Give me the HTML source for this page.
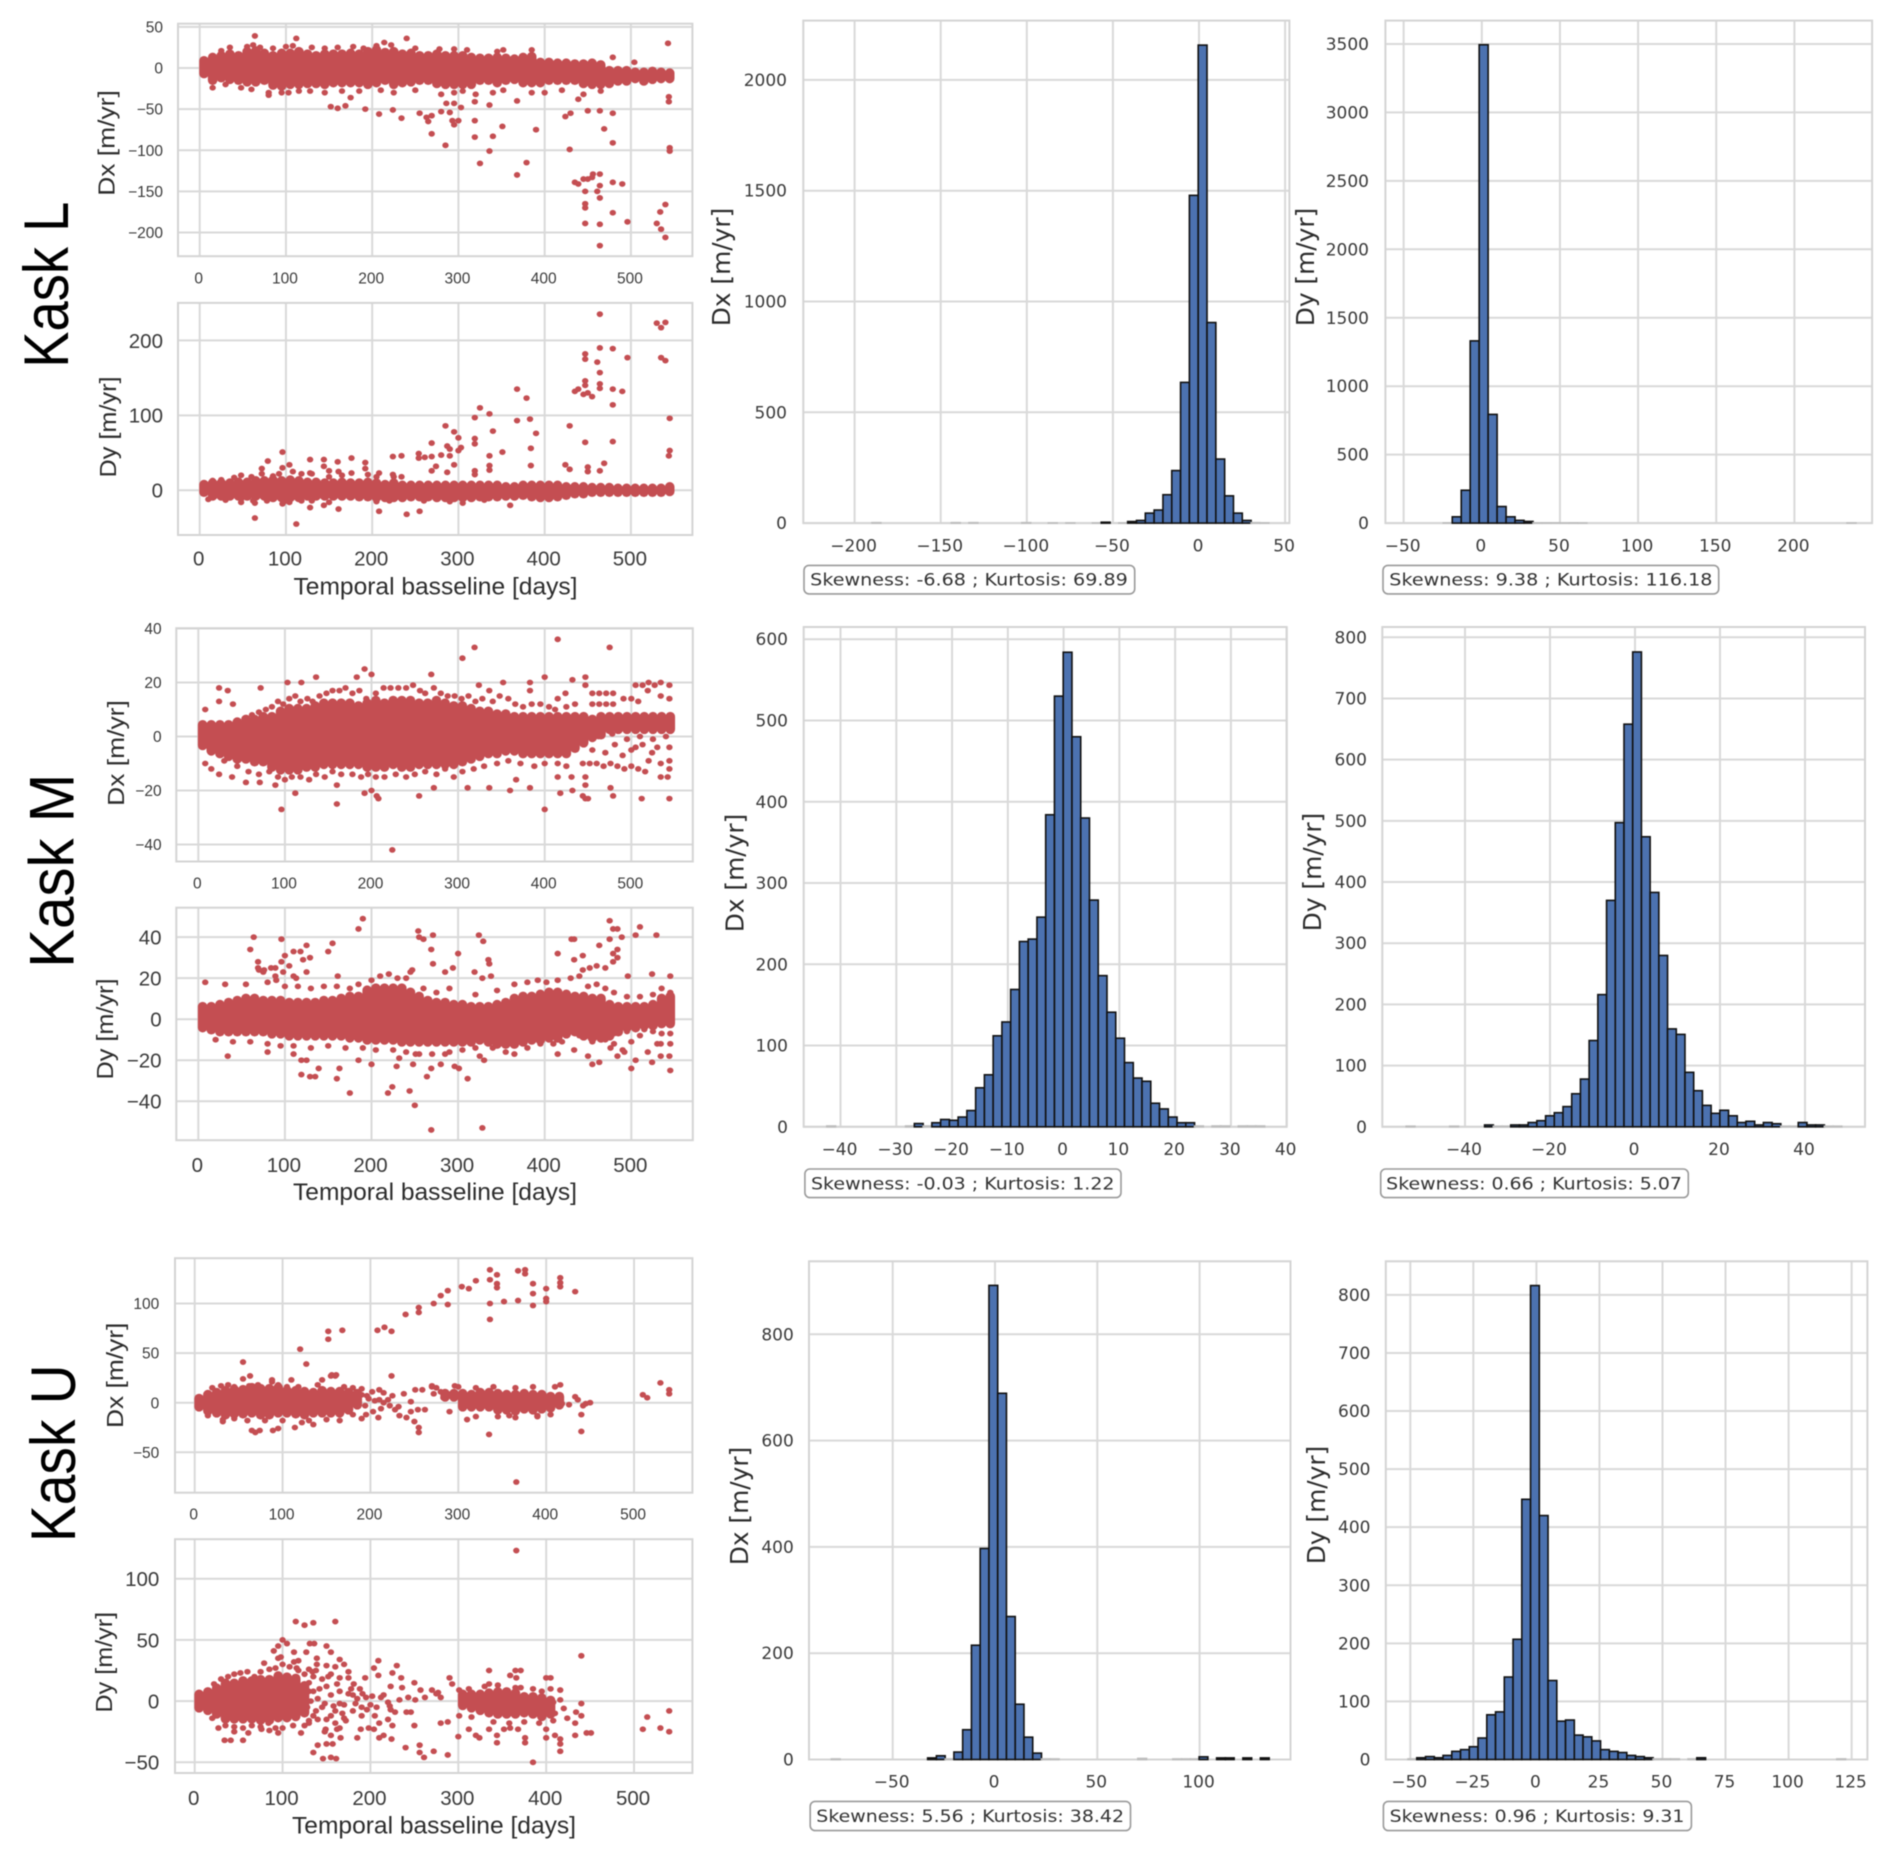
<!DOCTYPE html>
<html lang="en">
<head>
<meta charset="utf-8">
<title>Kask L, M, U displacement scatter plots and histograms</title>
<style>
html,body{margin:0;padding:0;background:#fff;width:1892px;height:1859px;overflow:hidden}
svg{display:block;filter:blur(.55px)}
</style>
</head>
<body>
<svg id="figure" xmlns="http://www.w3.org/2000/svg" width="1892" height="1859" viewBox="0 0 1892 1859"></svg>
<script>
/* ---------- shared ticks ---------- */
const dayTicks = [0,100,200,300,400,500];
const lDxScatterTicks = [50,0,-50,-100,-150,-200];
const lDyScatterTicks = [200,100,0];
const mDxScatterTicks = [40,20,0,-20,-40];
const mDyScatterTicks = [40,20,0,-20,-40];
const uDxScatterTicks = [100,50,0,-50];
const uDyScatterTicks = [100,50,0,-50];

const lDxHistXTicks = [-200,-150,-100,-50,0,50];
const lDxHistYTicks = [0,500,1000,1500,2000];
const lDyHistXTicks = [-50,0,50,100,150,200];
const lDyHistYTicks = [0,500,1000,1500,2000,2500,3000,3500];
const mDxHistXTicks = [-40,-30,-20,-10,0,10,20,30,40];
const mDxHistYTicks = [0,100,200,300,400,500,600];
const mDyHistXTicks = [-40,-20,0,20,40];
const mDyHistYTicks = [0,100,200,300,400,500,600,700,800];
const uDxHistXTicks = [-50,0,50,100];
const uDxHistYTicks = [0,200,400,600,800];
const uDyHistXTicks = [-50,-25,0,25,50,75,100,125];
const uDyHistYTicks = [0,100,200,300,400,500,600,700,800];

/* ---------- histogram counts (50 bins each) ---------- */
const lDxCounts = [0,0,0,0,0,2,0,0,0,0,0,0,0,0,2,0,2,0,0,0,0,0,2,0,0,1,0,1,0,0,1,4,0,1,7,12,45,59,128,237,635,1479,2157,905,289,123,45,12,2,1];
const lDxBinStart = -215.5;
const lDxBinWidth = 5.12;
const lDyCounts = [0,0,0,0,2,46,240,1331,3494,794,121,46,20,12,2,2,2,1,2,1,0,0,0,0,0,0,0,0,0,0,0,0,0,0,0,0,0,0,0,0,0,0,0,0,0,0,0,0,0,1];
const lDyBinStart = -47.6;
const lDyBinWidth = 5.74;
const mDxCounts = [1,0,0,0,0,0,0,0,0,1,4,1,5,9,8,12,20,48,64,112,129,169,228,231,258,384,530,584,480,380,279,186,141,109,79,60,56,29,22,12,5,5,1,0,1,1,0,1,1,1];
const mDxBinStart = -42.46;
const mDxBinWidth = 1.57;
const mDyCounts = [1,0,0,0,0,1,0,0,0,3,1,1,3,3,7,10,18,23,33,54,78,141,216,370,497,658,776,474,383,280,160,151,89,59,35,22,27,18,7,9,3,7,5,1,1,7,3,3,1,1];
const mDyBinStart = -53.84;
const mDyBinWidth = 2.05;
const uDxCounts = [1,0,0,0,0,0,0,0,0,0,0,3,7,1,14,56,215,397,892,689,269,104,42,12,1,1,0,0,0,0,0,0,0,0,0,2,0,0,0,1,1,1,5,0,3,3,0,3,0,3];
const uDxBinStart = -80;
const uDxBinWidth = 4.28;
const uDyCounts = [1,3,5,3,7,14,17,22,37,77,82,142,207,448,816,420,136,66,68,42,39,32,17,14,12,7,5,3,1,1,1,0,1,3,0,0,0,0,0,0,0,0,0,0,0,0,0,0,0,1];
const uDyBinStart = -50.9;
const uDyBinWidth = 3.47;

/* ---------- scatter dense cores: per-column low / high ---------- */
const lCoreDays = [5,15,25,35,45,55,65,75,85,95,105,115,125,135,145,155,165,175,185,195,205,215,225,235,245,255,265,275,285,295,305,315,325,335,345,355,365,375,385,395,405,415,425,435,445,455,465,475,485,495,505,515,525,535,545];
const lDxCoreHigh = [11,15,17,19,17,22,23,20,17,20,20,22,19,17,19,19,19,20,19,22,24,21,22,19,20,17,17,19,17,17,17,15,14,14,15,14,13,15,16,9,9,8,8,7,7,8,6,-1,-1,-1,-3,-3,-2,-3,-4];
const lDxCoreLow = [-9,-17,-14,-16,-17,-19,-19,-17,-23,-24,-22,-22,-21,-21,-22,-20,-20,-20,-20,-22,-20,-17,-22,-20,-19,-17,-17,-21,-22,-22,-22,-22,-17,-17,-20,-17,-16,-20,-20,-20,-17,-17,-17,-17,-21,-22,-22,-21,-18,-18,-15,-18,-16,-15,-15];
const lDyCoreHigh = [10,12,12,12,13,13,15,15,16,15,16,15,13,13,12,12,13,12,12,13,12,10,12,9,9,9,9,9,9,9,9,9,9,9,9,7,7,9,9,9,9,9,7,7,7,6,6,6,5,5,5,5,5,5,7];
const lDyCoreLow = [-5,-10,-10,-10,-10,-10,-10,-10,-12,-12,-12,-12,-10,-10,-10,-10,-10,-10,-11,-11,-12,-12,-12,-12,-11,-11,-11,-12,-12,-12,-12,-12,-11,-11,-11,-10,-10,-9,-11,-12,-12,-11,-9,-7,-7,-5,-5,-5,-5,-5,-5,-5,-5,-5,-4];
const mCoreDays = [5,15,25,35,45,55,65,75,85,95,105,115,125,135,145,155,165,175,185,195,205,215,225,235,245,255,265,275,285,295,305,315,325,335,345,355,365,375,385,395,405,415,425,435,445,455,465,475,485,495,505,515,525,535,545];
const mDxCoreHigh = [5,5,5,5,6,7,7,8,8,10,11,11,11,12,13,13,13,13,12,13,14,13,14,14,14,13,13,14,13,12,12,11,10,10,9,9,8,8,8,8,8,8,8,8,8,7,8,8,8,8,8,8,8,8,8];
const mDxCoreLow = [-4,-6,-7,-8,-9,-9,-10,-10,-12,-13,-13,-13,-12,-12,-11,-11,-11,-11,-11,-12,-12,-12,-11,-12,-12,-11,-11,-11,-11,-11,-10,-9,-8,-7,-7,-6,-6,-7,-7,-7,-7,-7,-7,-5,-3,-1,0,2,2,2,2,2,2,2,2];
const mDyCoreHigh = [7,7,8,9,10,11,11,10,10,10,9,9,9,9,10,10,11,12,12,15,16,16,16,16,14,12,10,9,9,8,8,7,7,7,8,9,11,12,12,13,14,14,13,12,12,11,11,8,7,7,7,7,8,11,12];
const mDyCoreLow = [-5,-6,-7,-7,-7,-7,-7,-7,-8,-8,-9,-9,-9,-9,-9,-9,-9,-10,-10,-11,-11,-11,-11,-12,-12,-12,-12,-12,-12,-12,-12,-12,-11,-12,-13,-13,-13,-12,-11,-11,-10,-10,-8,-7,-9,-10,-10,-9,-7,-5,-5,-4,-4,-3,-3];
const uDxCoreDays = [5,15,25,35,45,55,65,75,85,95,105,115,125,135,145,155,165,175,185,285,295,305,315,325,335,345,355,365,375,385,395,405,415];
const uDxCoreHigh = [6,10,12,14,15,15,17,16,16,17,14,14,13,12,14,13,13,12,11,11,11,11,10,12,12,11,10,10,11,10,10,8,8];
const uDxCoreLow = [-6,-10,-12,-14,-13,-13,-12,-14,-14,-12,-12,-13,-14,-12,-12,-12,-12,-9,-4,4,4,-6,-6,-6,-6,-9,-9,-10,-8,-9,-8,-7,-4];
const uDyCoreDays = [5,15,25,35,45,55,65,75,85,95,105,115,125,305,315,325,335,345,355,365,375,385,395,405];
const uDyCoreHigh = [7,9,12,16,16,18,18,19,19,22,21,20,14,7,7,7,8,9,9,8,5,5,4,2];
const uDyCoreLow = [-7,-9,-12,-16,-16,-16,-16,-17,-17,-15,-15,-14,-11,-5,-7,-9,-11,-12,-12,-12,-11,-12,-14,-12];

/* ---------- scatter individual points [day, value] ---------- */
const lDxPoints = [[64,39],[112,36],[214,31],[240,36],[543,30],[479,13],[504,7],[152,-47],[160,-49],[169,-46],[175,-36],[80,-33],[192,-50],[208,-56],[224,-51],[234,-61],[255,-55],[263,-60],[265,-65],[269,-58],[269,-80],[280,-53],[285,-94],[286,-43],[295,-43],[290,-54],[293,-64],[295,-69],[300,-64],[303,-48],[319,-41],[319,-64],[319,-84],[325,-116],[336,-45],[336,-101],[340,-83],[351,-71],[368,-40],[368,-130],[379,-115],[390,-75],[424,-59],[430,-55],[429,-99],[439,-38],[450,-52],[464,-52],[469,-74],[479,-55],[479,-91],[435,-139],[439,-141],[445,-135],[450,-135],[455,-133],[456,-129],[464,-129],[464,-143],[447,-150],[461,-150],[464,-158],[447,-165],[447,-170],[447,-189],[464,-190],[464,-216],[479,-139],[490,-141],[479,-176],[496,-187],[530,-189],[534,-175],[540,-166],[535,-196],[540,-206],[544,-35],[544,-41],[545,-97],[545,-101]];
const lDxEdgePoints = [[25,21],[35,25],[55,26],[62,28],[70,25],[85,24],[100,26],[108,27],[130,25],[145,24],[160,25],[178,26],[190,24],[205,27],[222,28],[250,24],[278,23],[295,23],[310,22],[345,20],[352,22],[385,22],[15,-24],[30,-20],[48,-24],[60,-26],[80,-30],[95,-30],[103,-30],[115,-28],[128,-28],[145,-30],[165,-28],[185,-28],[210,-27],[225,-30],[250,-27],[280,-32],[295,-30],[305,-28],[320,-32],[340,-30],[352,-27],[385,-30],[400,-30],[420,-27],[445,-32],[465,-28]];
const lDyPoints = [[464,235],[530,223],[540,224],[535,217],[464,190],[479,189],[447,182],[447,175],[461,171],[496,177],[535,177],[540,173],[464,157],[447,146],[447,140],[464,142],[464,136],[479,135],[490,132],[435,132],[439,135],[445,128],[450,130],[455,125],[479,114],[368,135],[379,123],[325,110],[336,102],[319,97],[368,93],[383,95],[545,96],[285,86],[295,78],[340,79],[390,76],[429,86],[300,70],[319,69],[319,62],[269,63],[447,64],[479,65],[303,57],[300,53],[384,56],[351,51],[336,46],[287,59],[290,55],[290,46],[254,49],[254,43],[261,44],[269,45],[280,47],[224,45],[234,46],[176,43],[128,41],[144,41],[160,38],[79,39],[96,51],[104,34],[96,30],[192,37],[192,29],[384,33],[424,34],[429,28],[469,36],[450,31],[450,25],[464,26],[336,33],[336,27],[319,26],[319,21],[295,34],[269,26],[274,32],[287,24],[72,29],[144,32],[161,25],[128,23],[150,26],[176,23],[208,23],[224,21],[234,18],[545,53],[544,46],[64,-37],[112,-45],[208,-28],[240,-32],[255,-28],[161,-25],[128,-23],[144,-20],[64,-17],[96,-18],[104,-16],[48,-16],[305,-17],[360,-20]];
const lDyEdgePoints = [[15,13],[25,14],[40,17],[48,20],[60,18],[72,22],[85,19],[92,22],[108,25],[118,22],[130,22],[150,18],[165,20],[195,21],[205,18],[225,18],[10,-12],[30,-13],[48,-12],[62,-14],[78,-14],[98,-15],[118,-14],[130,-14],[150,-16],[205,-15],[220,-14],[260,-14],[290,-15],[330,-13]];
const mDxPoints = [[415,36],[475,33],[319,33],[305,29],[192,25],[200,23],[183,22],[136,22],[269,23],[400,22],[447,22],[447,19],[432,21],[383,20],[352,20],[324,19],[336,17],[383,17],[119,20],[103,20],[24,18],[34,17],[72,18],[24,13],[40,12],[8,10],[424,16],[415,14],[505,19],[513,19],[520,20],[527,19],[534,20],[544,19],[491,14],[500,14],[508,13],[519,17],[534,15],[544,14],[455,16],[463,16],[471,16],[479,16],[455,12],[463,12],[471,12],[479,12],[96,-27],[160,-25],[224,-42],[400,-27],[447,-23],[444,-22],[450,-23],[544,-23],[512,-23],[479,-22],[418,-21],[432,-20],[360,-20],[311,-19],[336,-19],[272,-19],[255,-22],[192,-21],[206,-22],[208,-23],[200,-20],[112,-21],[160,-18],[89,-18],[24,-14],[8,-10],[15,-12],[39,-15],[55,-17],[71,-17],[383,-19],[367,-16],[447,-18],[476,-19],[447,-15],[431,-15],[415,-15],[444,-10],[452,-10],[460,-10],[468,-11],[476,-10],[484,-11],[492,-12],[500,-11],[508,-12],[516,-13],[534,-15],[542,-15],[544,-12],[544,-9],[534,-10],[544,-4],[524,-6],[505,-4],[513,-3],[481,-3],[455,-5],[470,-6],[490,-7],[500,-5],[520,-9],[530,-4],[462,0],[478,1],[495,-1],[510,0],[525,-1],[540,0]];
const mDxEdgePoints = [[62,8],[70,9],[78,10],[85,11],[92,13],[98,12],[105,14],[112,15],[118,13],[126,14],[132,13],[140,15],[148,16],[155,17],[163,17],[170,18],[178,16],[186,17],[194,14],[205,16],[214,18],[222,18],[231,18],[240,18],[248,19],[256,17],[262,16],[272,18],[280,16],[288,15],[296,15],[304,14],[312,15],[320,13],[328,14],[340,13],[348,15],[358,14],[366,12],[375,11],[385,12],[395,12],[405,11],[412,10],[425,11],[435,12],[30,-9],[45,-11],[58,-13],[70,-14],[82,-13],[92,-15],[100,-16],[108,-15],[118,-15],[128,-16],[136,-14],[146,-15],[155,-13],[165,-14],[178,-14],[188,-15],[196,-14],[205,-15],[215,-15],[228,-14],[240,-15],[250,-14],[262,-13],[275,-14],[285,-12],[295,-15],[305,-13],[318,-12],[330,-11],[345,-10],[358,-9],[372,-10],[388,-11],[400,-10],[415,-10],[425,-11]];
const mDyPoints = [[190,49],[185,44],[475,48],[484,44],[479,44],[510,45],[505,41],[489,40],[529,41],[475,39],[254,43],[255,40],[260,39],[271,41],[324,41],[329,38],[431,39],[434,39],[64,40],[96,39],[60,34],[155,37],[150,33],[125,36],[110,33],[118,33],[129,30],[121,29],[100,31],[96,28],[269,34],[300,32],[415,32],[463,36],[484,34],[479,32],[484,30],[444,31],[434,29],[335,29],[336,27],[479,28],[271,27],[294,25],[460,26],[452,25],[444,24],[470,25],[69,28],[69,25],[76,24],[84,25],[89,25],[89,21],[98,23],[105,26],[110,21],[113,20],[125,23],[161,21],[247,24],[285,23],[319,23],[328,20],[338,21],[524,22],[496,21],[545,21],[8,18],[31,17],[55,17],[269,-54],[328,-53],[250,-42],[244,-35],[224,-33],[219,-36],[175,-36],[160,-29],[311,-29],[264,-28],[119,-27],[129,-28],[135,-28],[139,-24],[163,-24],[229,-23],[248,-22],[269,-24],[280,-22],[296,-23],[301,-24],[200,-22],[185,-20],[34,-18],[80,-16],[455,-22],[463,-21],[500,-24],[505,-20],[524,-21],[545,-25],[534,-18],[544,-18],[519,-16],[484,-18],[415,-17],[434,-15],[450,-18],[119,-20],[125,-20],[325,-18],[330,-20],[110,-17],[232,-19],[251,-17],[285,-17],[476,-14],[492,-16],[534,-12]];
const mDyEdgePoints = [[200,19],[210,21],[220,22],[230,20],[240,20],[245,23],[70,24],[75,23],[80,18],[90,19],[100,16],[115,16],[130,15],[145,16],[160,16],[175,15],[185,17],[260,15],[275,13],[290,15],[320,12],[345,14],[365,17],[380,18],[392,19],[402,18],[415,19],[430,20],[440,21],[450,16],[460,17],[470,15],[480,13],[495,11],[510,11],[525,12],[535,15],[545,13],[20,-10],[40,-11],[60,-11],[80,-12],[95,-13],[110,-13],[130,-14],[150,-13],[170,-14],[190,-14],[205,-15],[225,-15],[240,-16],[255,-17],[270,-17],[290,-16],[305,-15],[320,-14],[340,-14],[355,-16],[365,-17],[380,-14],[395,-12],[410,-12],[420,-11],[440,-8],[450,-8],[460,-6],[470,-10],[480,-12],[490,-15],[500,-11],[510,-8],[470,-4],[480,-7],[455,-11],[495,-6],[515,-5],[525,-6],[535,-7],[545,-7],[530,-12],[545,-12]];
const uDxPoints = [[120,54],[127,39],[152,72],[152,64],[168,73],[208,73],[216,76],[224,72],[240,89],[255,96],[255,91],[272,100],[280,108],[288,113],[288,99],[304,117],[312,115],[320,123],[336,134],[336,124],[336,100],[336,84],[344,129],[344,120],[344,116],[352,102],[368,133],[368,103],[376,134],[376,130],[385,120],[385,110],[385,98],[400,115],[400,105],[400,102],[416,126],[416,121],[416,117],[433,112],[55,41],[63,27],[224,27],[156,28],[161,28],[145,23],[110,23],[88,23],[510,8],[515,5],[530,20],[540,13],[540,9],[366,-80],[335,-32],[440,-29],[440,-12],[255,-25],[255,-30],[250,-19],[65,-28],[69,-30],[74,-28],[89,-28],[95,-26],[114,-25],[135,-22],[32,-19],[310,-17],[290,-9],[358,-13],[390,-13],[190,-16],[209,-15],[203,-9],[194,-3],[210,3],[210,13],[202,11],[196,7],[220,3],[225,7],[238,9],[222,-3],[228,-7],[233,-13],[241,-15],[246,-9],[246,1],[251,13],[259,13],[262,-7],[254,-7],[270,16],[275,15],[280,11],[272,9],[283,5],[293,9],[296,17],[418,-1],[426,-2],[433,6],[436,3],[442,-3],[450,0],[445,-1],[190,8],[198,4],[205,2],[215,0],[232,-4],[212,-6]];
const uDxEdgePoints = [[20,15],[30,17],[38,18],[45,16],[55,24],[62,17],[72,18],[88,21],[95,18],[105,16],[118,16],[140,18],[155,27],[160,27],[170,16],[180,15],[190,14],[215,10],[270,17],[300,16],[320,15],[340,16],[365,15],[385,16],[410,16],[416,18],[15,-13],[32,-17],[45,-16],[60,-18],[80,-18],[100,-18],[122,-20],[130,-18],[150,-17],[165,-18],[180,-12],[195,-12],[320,-14],[345,-14],[365,-15],[390,-14],[405,-12]];
const uDyPoints = [[366,123],[115,65],[125,62],[135,64],[160,65],[100,50],[105,47],[131,47],[136,47],[150,45],[95,45],[90,41],[155,40],[113,40],[127,40],[98,36],[95,35],[440,37],[165,34],[170,30],[139,35],[150,29],[139,30],[113,32],[118,33],[79,31],[209,33],[204,27],[209,21],[230,29],[225,23],[235,19],[194,19],[134,24],[118,25],[335,25],[365,25],[371,25],[359,21],[366,19],[290,19],[400,19],[405,19],[335,14],[371,11],[165,19],[175,19],[155,22],[181,14],[223,12],[236,11],[250,15],[257,9],[270,9],[277,7],[293,14],[301,9],[191,6],[202,4],[212,3],[220,-1],[233,1],[243,3],[251,1],[262,3],[275,6],[280,3],[183,-2],[196,-7],[207,-5],[223,-7],[228,-9],[241,-9],[246,-9],[385,-50],[146,-47],[155,-46],[161,-47],[261,-46],[288,-44],[272,-41],[256,-36],[256,-42],[240,-38],[135,-42],[140,-36],[150,-35],[157,-35],[166,-30],[155,-28],[149,-23],[162,-23],[224,-31],[215,-28],[210,-30],[185,-30],[189,-23],[198,-22],[204,-23],[210,-18],[220,-15],[225,-20],[250,-20],[280,-18],[288,-17],[300,-29],[301,-12],[312,-23],[320,-28],[324,-30],[335,-23],[344,-28],[344,-34],[352,-23],[359,-22],[376,-30],[376,-34],[368,-23],[400,-30],[400,-23],[410,-28],[416,-31],[416,-35],[416,-41],[433,-28],[433,-18],[440,-12],[440,-2],[434,-9],[424,-14],[416,9],[416,1],[408,-1],[446,-26],[451,-26],[510,-23],[515,-13],[530,-22],[540,-8],[540,-25],[34,-32],[41,-32],[55,-32],[45,-25],[61,-26],[76,-23],[95,-26],[121,-26],[92,-22],[27,-22],[84,-18],[130,15],[135,8],[140,2],[145,-5],[150,12],[155,5],[160,-8],[165,8],[170,-3],[175,6],[150,-15],[140,-15],[160,-18],[170,-14],[135,-12],[180,-8],[180,5],[145,18],[165,-2],[155,-12],[190,-12],[188,10],[130,-18],[135,20],[420,-6],[410,-10],[405,10]];
const uDyEdgePoints = [[22,14],[30,18],[38,20],[45,22],[52,23],[60,24],[68,20],[75,24],[85,26],[92,27],[100,30],[108,28],[116,27],[125,22],[130,26],[20,-14],[35,-20],[45,-21],[55,-22],[65,-20],[75,-21],[85,-24],[100,-22],[112,-20],[125,-20],[130,-16],[130,8],[128,-5],[132,0],[138,-8],[142,10],[148,-2],[152,20],[158,-4],[162,14],[168,-10],[172,-16],[178,10],[185,2],[190,-5],[195,3],[200,-3],[205,-12],[215,5],[222,-4],[138,25],[160,28],[175,24],[148,-25],[165,-22],[312,10],[330,12],[345,13],[365,11],[385,10],[395,8],[315,-13],[340,-17],[358,-18],[375,-17],[392,-18],[408,-16]];

/* ---------- layout (pixels of the figure, not data) ---------- */
const scatterPanels = [
 {name:'kask-l-dx-scatter',yTitle:'Dx [m/yr]',dayAxis:dayTicks,valAxis:lDxScatterTicks,days:lCoreDays,low:lDxCoreLow,high:lDxCoreHigh,pts:lDxPoints.concat(lDxEdgePoints),l:178,r:692.4,t:23.7,b:256.2,x0:199.7,xs:.8624,y0:68,ys:.8225,tickRight:163,tickFont:15.5,xTickY:278,titleX:106.5,titleY:143,titleLen:105.6},
 {name:'kask-l-dy-scatter',yTitle:'Dy [m/yr]',dayAxis:dayTicks,valAxis:lDyScatterTicks,days:lCoreDays,low:lDyCoreLow,high:lDyCoreHigh,pts:lDyPoints.concat(lDyEdgePoints),l:178,r:692.4,t:302.9,b:535,x0:199.7,xs:.8624,y0:490.3,ys:.7495,tickRight:163,tickFont:20.5,xTickY:558,titleX:107.7,titleY:427,titleLen:101,xTitleY:586.4,xTitleCx:435.5},
 {name:'kask-m-dx-scatter',yTitle:'Dx [m/yr]',dayAxis:dayTicks,valAxis:mDxScatterTicks,days:mCoreDays,low:mDxCoreLow,high:mDxCoreHigh,pts:mDxPoints.concat(mDxEdgePoints),l:176.3,r:692.8,t:628.2,b:861.5,x0:198.3,xs:.866,y0:736.5,ys:2.7,tickRight:161.6,tickFont:15.5,xTickY:882.8,titleX:115.7,titleY:753,titleLen:105.6},
 {name:'kask-m-dy-scatter',yTitle:'Dy [m/yr]',dayAxis:dayTicks,valAxis:mDyScatterTicks,days:mCoreDays,low:mDyCoreLow,high:mDyCoreHigh,pts:mDyPoints.concat(mDyEdgePoints),l:176.3,r:692.8,t:907.7,b:1140.2,x0:198.3,xs:.866,y0:1019.2,ys:2.051,tickRight:161.6,tickFont:20.5,xTickY:1164.8,titleX:104.9,titleY:1029,titleLen:101,xTitleY:1192,xTitleCx:435},
 {name:'kask-u-dx-scatter',yTitle:'Dx [m/yr]',dayAxis:dayTicks,valAxis:uDxScatterTicks,days:uDxCoreDays,low:uDxCoreLow,high:uDxCoreHigh,pts:uDxPoints.concat(uDxEdgePoints),l:175,r:692.4,t:1258.2,b:1492.7,x0:194.7,xs:.8787,y0:1402.7,ys:.9917,tickRight:159.3,tickFont:15.5,xTickY:1514,titleX:114.8,titleY:1375.3,titleLen:105.4},
 {name:'kask-u-dy-scatter',yTitle:'Dy [m/yr]',dayAxis:dayTicks,valAxis:uDyScatterTicks,days:uDyCoreDays,low:uDyCoreLow,high:uDyCoreHigh,pts:uDyPoints.concat(uDyEdgePoints),l:175,r:692.4,t:1539.2,b:1773,x0:194.7,xs:.8787,y0:1701.1,ys:1.224,tickRight:159.3,tickFont:20.5,xTickY:1797.4,titleX:104,titleY:1662.2,titleLen:100.7,xTitleY:1825.5,xTitleCx:434}
];
const histPanels = [
 {name:'kask-l-dx-histogram',yTitle:'Dx [m/yr]',counts:lDxCounts,start:lDxBinStart,width:lDxBinWidth,xAxis:lDxHistXTicks,yAxis:lDxHistYTicks,l:803.3,r:1289.4,t:20.6,b:523.1,x0:1199,xs:1.722,ys:.2216,tickRight:787,xTickY:545.7,titleX:721,titleY:267,stat:'Skewness: -6.68 ; Kurtosis: 69.89',boxL:804,boxR:1134.7,boxT:565.4,boxB:593.9,textL:810.2,textR:1127.8},
 {name:'kask-l-dy-histogram',yTitle:'Dy [m/yr]',counts:lDyCounts,start:lDyBinStart,width:lDyBinWidth,xAxis:lDyHistXTicks,yAxis:lDyHistYTicks,l:1385.4,r:1872.1,t:20.6,b:523.1,x0:1481.8,xs:1.563,ys:.1369,tickRight:1369,xTickY:545.7,titleX:1305,titleY:267,stat:'Skewness: 9.38 ; Kurtosis: 116.18',boxL:1383,boxR:1718.7,boxT:565.4,boxB:593.9,textL:1389.3,textR:1712.5},
 {name:'kask-m-dx-histogram',yTitle:'Dx [m/yr]',counts:mDxCounts,start:mDxBinStart,width:mDxBinWidth,xAxis:mDxHistXTicks,yAxis:mDxHistYTicks,l:803.7,r:1286.7,t:627,b:1126.8,x0:1063.6,xs:5.577,ys:.8126,tickRight:788,xTickY:1149,titleX:734.5,titleY:873,stat:'Skewness: -0.03 ; Kurtosis: 1.22',boxL:804.9,boxR:1121,boxT:1169,boxB:1197.6,textL:811,textR:1114.5},
 {name:'kask-m-dy-histogram',yTitle:'Dy [m/yr]',counts:mDyCounts,start:mDyBinStart,width:mDyBinWidth,xAxis:mDyHistXTicks,yAxis:mDyHistYTicks,l:1382.3,r:1865,t:627,b:1126.8,x0:1635,xs:4.25,ys:.6119,tickRight:1367,xTickY:1149,titleX:1312,titleY:872,stat:'Skewness: 0.66 ; Kurtosis: 5.07',boxL:1380.7,boxR:1688.3,boxT:1169,boxB:1197.6,textL:1386.2,textR:1682},
 {name:'kask-u-dx-histogram',yTitle:'Dx [m/yr]',counts:uDxCounts,start:uDxBinStart,width:uDxBinWidth,xAxis:uDxHistXTicks,yAxis:uDxHistYTicks,l:809,r:1290.5,t:1261.3,b:1759.5,x0:995,xs:2.046,ys:.5315,tickRight:793.8,xTickY:1781.6,titleX:739.4,titleY:1506,stat:'Skewness: 5.56 ; Kurtosis: 38.42',boxL:810.2,boxR:1130.5,boxT:1801.4,boxB:1830.6,textL:816.3,textR:1124},
 {name:'kask-u-dy-histogram',yTitle:'Dy [m/yr]',counts:uDyCounts,start:uDyBinStart,width:uDyBinWidth,xAxis:uDyHistXTicks,yAxis:uDyHistYTicks,l:1385.8,r:1867.4,t:1261.3,b:1759.5,x0:1536.4,xs:2.522,ys:.5808,tickRight:1370.5,xTickY:1781.6,titleX:1316,titleY:1505,stat:'Skewness: 0.96 ; Kurtosis: 9.31',boxL:1383.4,boxR:1691.4,boxT:1801.4,boxB:1830.6,textL:1389.7,textR:1684.4}
];
const rowTitles = [
 {text:'Kask L',x:68,y:367.7,len:166},
 {text:'Kask M',x:73.5,y:967.8,len:194},
 {text:'Kask U',x:74.8,y:1542,len:177.6}
];

/* ---------- drawing helpers ---------- */
const NS = 'http://www.w3.org/2000/svg';
const root = document.getElementById('figure');
const SANS = '"Liberation Sans", sans-serif';
const DEJA = '"DejaVu Sans", sans-serif';
const GRID = '#d9d9d9';
const FRAME = '#d4d4d4';
const INK = '#3a3a3a';

function mk(tag, attrs, parent){
  const el = document.createElementNS(NS, tag);
  for (const k in attrs) el.setAttribute(k, attrs[k]);
  parent.appendChild(el);
  return el;
}
function fmt(v){ return String(v).replace('-', '\u2212'); }
function writeText(parent, str, attrs, name){
  const t = mk('text', attrs, parent);
  t.textContent = str;
  
  
  return t;
}
function drawFrame(g, p){
  const f = mk('rect', {x:p.l, y:p.t, width:p.r-p.l, height:p.b-p.t, fill:'none', stroke:FRAME, 'stroke-width':2}, g);
  
  
}
function gridV(g, x, p){
  const ln = mk('line', {x1:x, x2:x, y1:p.t, y2:p.b, stroke:GRID, 'stroke-width':2}, g);
  
  
}
function gridH(g, y, p){
  const ln = mk('line', {x1:p.l, x2:p.r, y1:y, y2:y, stroke:GRID, 'stroke-width':2}, g);
  
  
}
function rotatedTitle(g, str, cx, cy, size, len, family, name){
  const bx = cx + size * .35;
  return writeText(g, str, {x:bx, y:cy, 'text-anchor':'middle', 'font-family':family, 'font-size':size, fill:'#2c2c2c',
    textLength:len, lengthAdjust:'spacingAndGlyphs', transform:'rotate(-90 '+bx+' '+cy+')'}, name);
}

/* ---------- row titles ---------- */
rowTitles.forEach(function(r){
  writeText(root, r.text, {x:r.x, y:r.y, 'font-family':SANS, 'font-size':63, fill:'#000',
    textLength:r.len, lengthAdjust:'spacingAndGlyphs', transform:'rotate(-90 '+r.x+' '+r.y+')'}, 'row-title');
});

/* ---------- scatter panels ---------- */
scatterPanels.forEach(function(p){
  const g = mk('g', {}, root);
  
  
  const sx = function(d){ return p.x0 + d * p.xs; };
  const sy = function(v){ return p.y0 - v * p.ys; };

  p.dayAxis.forEach(function(d){
    gridV(g, sx(d), p);
    writeText(g, fmt(d), {x:sx(d)-1, y:p.xTickY + p.tickFont*.36, 'text-anchor':'middle', 'font-family':SANS, 'font-size':p.tickFont, fill:INK}, 'x-tick-label');
  });
  p.valAxis.forEach(function(v){
    gridH(g, sy(v), p);
    writeText(g, fmt(v), {x:p.tickRight, y:sy(v) + p.tickFont*.36, 'text-anchor':'end', 'font-family':SANS, 'font-size':p.tickFont, fill:INK}, 'y-tick-label');
  });
  drawFrame(g, p);

  p.days.forEach(function(d, i){
    const yl = sy(p.low[i]);
    const yh = sy(p.high[i]);
    const inset = Math.min(1.8, (yl - yh) / 2);
    const col = mk('line', {x1:sx(d), x2:sx(d), y1:yl - inset, y2:yh + inset, stroke:'#c44e52', 'stroke-width':9.6, 'stroke-linecap':'round'}, g);
    
    
  });
  p.pts.forEach(function(pt){
    const dot = mk('ellipse', {cx:sx(pt[0]), cy:sy(pt[1]), rx:3.2, ry:2.9, fill:'#c44e52'}, g);
    
    
  });

  rotatedTitle(g, p.yTitle, p.titleX, p.titleY, 23, p.titleLen, SANS, 'y-axis-title');
  if (p.xTitleY) {
    writeText(g, 'Temporal basseline [days]', {x:p.xTitleCx, y:p.xTitleY + 8, 'text-anchor':'middle', 'font-family':SANS, 'font-size':24, fill:'#2c2c2c',
      textLength:284, lengthAdjust:'spacingAndGlyphs'}, 'x-axis-title');
  }
});

/* ---------- histogram panels ---------- */
histPanels.forEach(function(p){
  const g = mk('g', {}, root);
  
  
  const sx = function(v){ return p.x0 + v * p.xs; };
  const sy = function(c){ return p.b - c * p.ys; };

  p.xAxis.forEach(function(v){
    gridV(g, sx(v), p);
    writeText(g, fmt(v), {x:sx(v)-1, y:p.xTickY + 6, 'text-anchor':'middle', 'font-family':DEJA, 'font-size':17, fill:INK}, 'x-tick-label');
  });
  p.yAxis.forEach(function(v){
    gridH(g, sy(v), p);
    writeText(g, fmt(v), {x:p.tickRight, y:sy(v) + 6, 'text-anchor':'end', 'font-family':DEJA, 'font-size':17, fill:INK}, 'y-tick-label');
  });
  drawFrame(g, p);

  p.counts.forEach(function(c, i){
    if (c <= 0) return;
    const x1 = sx(p.start + i * p.width);
    const x2 = sx(p.start + (i + 1) * p.width);
    const bar = mk('rect', {x:x1, y:sy(c), width:x2-x1, height:c*p.ys, fill:'#4c72b0',
      stroke:c <= 2 ? '#bdbdbd' : '#111', 'stroke-width':1.6}, g);
    
    
  });

  rotatedTitle(g, p.yTitle, p.titleX, p.titleY, 25, 118.6, DEJA, 'y-axis-title');

  const box = mk('rect', {x:p.boxL, y:p.boxT, width:p.boxR-p.boxL, height:p.boxB-p.boxT, rx:5, ry:5, fill:'#fff', stroke:'#9a9a9a', 'stroke-width':1.6}, g);
  
  
  writeText(g, p.stat, {x:p.textL, y:(p.boxT+p.boxB)/2 + 6, 'font-family':DEJA, 'font-size':16.5, fill:'#333',
    textLength:p.textR-p.textL, lengthAdjust:'spacingAndGlyphs'}, 'statistics-label');
});
</script>
</body>
</html>
